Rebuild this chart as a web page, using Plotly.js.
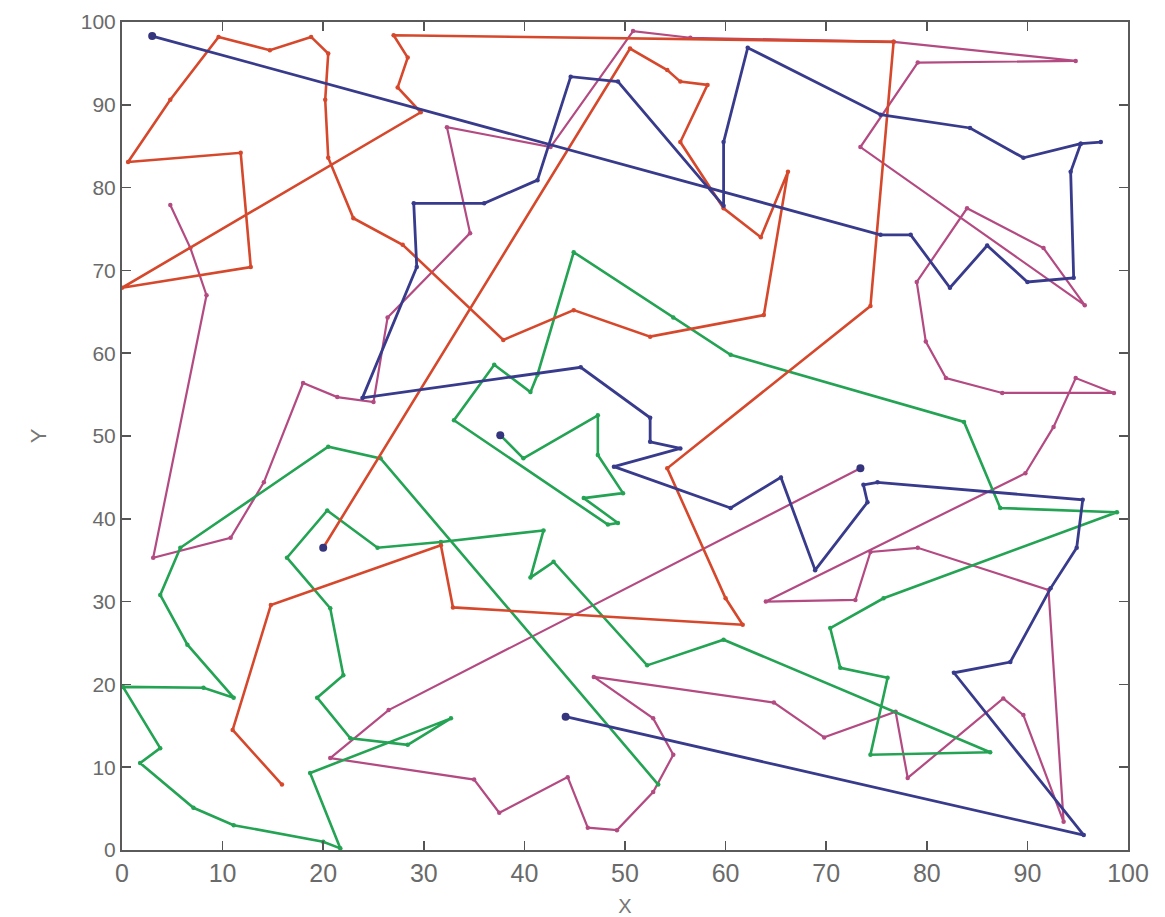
<!DOCTYPE html>
<html>
<head>
<meta charset="utf-8">
<script src="https://cdn.plot.ly/plotly-3.0.1.min.js"></script>
<style>html,body{margin:0;padding:0;background:#fff;}#chart{width:1165px;height:917px;}</style>
</head>
<body>
<div id="chart"></div>
<script>
// Route 1 (red / orange)
const redX = [15.9, 11.0, 14.8, 31.7, 32.9, 61.7, 60.0, 54.2, 74.4, 76.7, 27.0, 28.4, 27.4, 29.7, 0.0, 12.8, 11.8, 0.6, 4.8, 9.6, 14.7, 18.8, 20.5, 20.2, 20.5, 23.0, 27.9, 37.9, 44.9, 52.5, 63.8, 66.2, 63.5, 59.8, 55.5, 58.2, 55.5, 54.2, 50.5, 20.0];
const redY = [7.9, 14.5, 29.6, 36.8, 29.3, 27.2, 30.4, 46.1, 65.7, 97.6, 98.4, 95.7, 92.1, 89.1, 67.9, 70.4, 84.2, 83.1, 90.6, 98.2, 96.6, 98.2, 96.2, 90.6, 83.6, 76.3, 73.1, 61.6, 65.2, 62.0, 64.6, 81.9, 74.0, 77.5, 85.5, 92.4, 92.8, 94.2, 96.8, 36.5];

// Route 2 (blue)
const blueX = [3.0, 75.4, 78.4, 82.3, 86.0, 90.0, 94.6, 94.3, 95.3, 97.3, 95.3, 89.6, 84.3, 75.4, 62.2, 59.8, 59.8, 49.3, 44.6, 41.3, 36.0, 29.0, 29.3, 23.9, 45.6, 52.5, 52.5, 55.5, 48.9, 60.5, 65.5, 68.9, 74.1, 73.7, 75.1, 95.5, 94.9, 92.3, 88.3, 82.7, 95.6, 44.1];
const blueY = [98.3, 74.3, 74.3, 67.9, 73.0, 68.6, 69.1, 81.9, 85.3, 85.5, 85.3, 83.6, 87.2, 88.8, 96.9, 85.5, 77.8, 92.8, 93.4, 80.9, 78.1, 78.1, 70.4, 54.6, 58.3, 52.2, 49.3, 48.5, 46.3, 41.3, 45.0, 33.8, 42.0, 44.1, 44.4, 42.3, 36.5, 31.6, 22.7, 21.4, 1.8, 16.1];

// Route 3 (green)
const greenX = [53.3, 25.7, 20.5, 5.8, 3.8, 6.5, 11.1, 8.1, 0.1, 3.8, 1.8, 7.1, 11.1, 20.0, 21.7, 18.7, 32.7, 28.4, 22.7, 19.4, 22.0, 20.7, 16.4, 20.4, 25.4, 31.7, 41.9, 40.6, 42.9, 52.2, 59.8, 86.3, 74.4, 76.1, 71.4, 70.4, 75.7, 98.9, 87.3, 83.7, 60.5, 54.8, 44.9, 41.3, 40.6, 37.0, 33.0, 48.3, 49.3, 45.9, 49.8, 47.3, 47.3, 39.9, 37.6];
const greenY = [7.9, 47.3, 48.7, 36.5, 30.8, 24.8, 18.4, 19.6, 19.7, 12.3, 10.5, 5.1, 3.0, 1.0, 0.2, 9.3, 15.9, 12.7, 13.5, 18.4, 21.1, 29.2, 35.3, 41.0, 36.5, 37.2, 38.6, 32.9, 34.8, 22.3, 25.4, 11.8, 11.5, 20.8, 22.0, 26.8, 30.4, 40.8, 41.3, 51.7, 59.8, 64.3, 72.2, 57.4, 55.3, 58.6, 51.9, 39.3, 39.5, 42.5, 43.1, 47.7, 52.5, 47.3, 50.1];

// Route 4 (magenta)
const magX = [4.8, 6.8, 8.4, 3.1, 10.8, 14.1, 18.0, 21.4, 25.0, 26.4, 34.6, 32.3, 42.6, 50.8, 56.5, 76.7, 94.8, 79.1, 73.4, 95.7, 91.6, 84.0, 79.0, 79.9, 81.9, 87.5, 98.6, 94.8, 92.6, 89.8, 64.0, 72.9, 74.4, 79.1, 92.1, 93.6, 89.6, 87.6, 78.1, 76.9, 69.8, 64.8, 46.9, 52.8, 54.8, 52.8, 49.2, 46.3, 44.3, 37.5, 35.0, 20.7, 26.5, 73.4];
const magY = [77.9, 72.7, 67.0, 35.3, 37.7, 44.4, 56.4, 54.7, 54.1, 64.3, 74.5, 87.3, 84.9, 98.9, 98.1, 97.6, 95.3, 95.1, 84.9, 65.8, 72.7, 77.5, 68.6, 61.4, 57.0, 55.2, 55.2, 57.0, 51.1, 45.5, 30.0, 30.2, 36.0, 36.5, 31.4, 3.4, 16.3, 18.3, 8.7, 16.7, 13.6, 17.8, 20.9, 15.9, 11.5, 7.0, 2.4, 2.7, 8.8, 4.5, 8.5, 11.1, 16.9, 46.1];

const ticks = [0, 10, 20, 30, 40, 50, 60, 70, 80, 90, 100];

function route(x, y, color, w) {
  return {x: x, y: y, type: 'scatter', mode: 'lines+markers',
    line: {color: color, width: w},
    marker: {color: color, size: 4.5}, hoverinfo: 'x+y', showlegend: false};
}
const navy = '#34357d';
const endX = [blueX[0], blueX[blueX.length-1], redX[redX.length-1], magX[magX.length-1], greenX[greenX.length-1]];
const endY = [blueY[0], blueY[blueY.length-1], redY[redY.length-1], magY[magY.length-1], greenY[greenY.length-1]];

const data = [
  route(magX, magY, '#b34a82', 2.2),
  route(greenX, greenY, '#23a353', 2.6),
  route(redX, redY, '#d6482c', 2.6),
  route(blueX, blueY, '#383b8c', 2.8),
  {x: endX, y: endY, type: 'scatter', mode: 'markers', marker: {color: navy, size: 8}, showlegend: false, hoverinfo: 'x+y'}
];

const axisCommon = {
  range: [0, 100], tickvals: ticks, ticktext: ticks.map(String),
  showgrid: false, zeroline: false, showline: true, mirror: 'ticks',
  linecolor: '#5a5a5a', linewidth: 2, ticks: 'inside', ticklen: 9, tickwidth: 1.5, tickcolor: '#555'
};

const layout = {
  width: 1165, height: 917,
  margin: {l: 121.5, r: 37.4, t: 22, b: 67},
  paper_bgcolor: '#ffffff', plot_bgcolor: '#ffffff',
  showlegend: false,
  xaxis: Object.assign({}, axisCommon, {
    tickfont: {family: 'Liberation Sans Narrow, Arial Narrow, Liberation Sans, sans-serif', size: 25, color: '#6a6a6a'},
    title: {text: 'X', font: {family: 'Liberation Sans Narrow, Liberation Sans, sans-serif', size: 20, color: '#777'}, standoff: 13}
  }),
  yaxis: Object.assign({}, axisCommon, {
    tickfont: {family: 'Liberation Sans, Arial, sans-serif', size: 21, color: '#6a6a6a'},
    title: {text: 'Y', font: {family: 'Liberation Sans, Arial, sans-serif', size: 22, color: '#777'}, standoff: 28}
  })
};

Plotly.newPlot('chart', data, layout, {displayModeBar: false, staticPlot: true});
</script>
</body>
</html>
